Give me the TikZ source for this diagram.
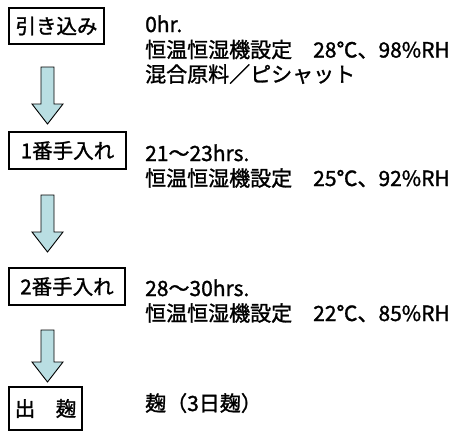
\documentclass[tikz,border=0pt]{standalone}
\usepackage{fontspec}
\setmainfont{Noto Sans CJK JP}[BoldFont=Noto Sans CJK JP,BoldFeatures={FakeBold=1.3}]
\usetikzlibrary{calc}
\definecolor{arrowfill}{RGB}{185,222,226}
\tikzset{
  x=1pt,y=1pt,
  stepbox/.style={draw=black,line width=1.4pt,inner sep=0pt,font=\fontsize{20.5}{22}\selectfont\bfseries},
  info/.style={anchor=base west,inner sep=0pt,font=\fontsize{21}{24}\selectfont\bfseries},
  blockarr/.style={draw=black,line width=0.9pt,fill=arrowfill,line join=miter}
}
\newcommand\downblock[2]{%
  \draw[blockarr] ($(#1)+(-6.5,0)$) -- ($(#1)+(6.5,0)$) -- ($(#2)+(6.5,20)$) -- ($(#2)+(15.5,20)$) -- (#2) -- ($(#2)+(-15.5,20)$) -- ($(#2)+(-6.5,20)$) -- cycle;}
\begin{document}
\begin{tikzpicture}
\useasboundingbox (0,0) rectangle (449,-432);
% boxes
\node[stepbox,minimum width=95pt,minimum height=36pt] (b1) at (56.5,-26) {引き込み};
\node[stepbox,minimum width=117pt,minimum height=37pt] (b2) at (67.5,-150.5) {1番手入れ};
\node[stepbox,minimum width=116pt,minimum height=37pt] (b3) at (67,-286.5) {2番手入れ};
\node[stepbox,minimum width=73pt,minimum height=43pt] (b4) at (45.5,-408.5) {出　麹};
% arrows
\coordinate (t1) at (47.5,-67);  \coordinate (p1) at (47.5,-124);
\coordinate (t2) at (47.5,-195); \coordinate (p2) at (47.5,-252);
\coordinate (t3) at (47.5,-330); \coordinate (p3) at (47.5,-382);
\downblock{t1}{p1}
\downblock{t2}{p2}
\downblock{t3}{p3}
% texts
\node[info] (r1a) at (145,-32) {0hr.};
\node[info] (r1b) at (145,-57.5) {恒温恒湿機設定　28℃、98\%RH};
\node[info] (r1c) at (145,-82) {混合原料／ピシャット};
\node[info] (r2a) at (145,-161) {21～23hrs.};
\node[info] (r2b) at (145,-186) {恒温恒湿機設定　25℃、92\%RH};
\node[info] (r3a) at (145,-296) {28～30hrs.};
\node[info] (r3b) at (145,-321) {恒温恒湿機設定　22℃、85\%RH};
\node[info] (r4a) at (145,-411) {麹（3日麹）};
\end{tikzpicture}
\end{document}
